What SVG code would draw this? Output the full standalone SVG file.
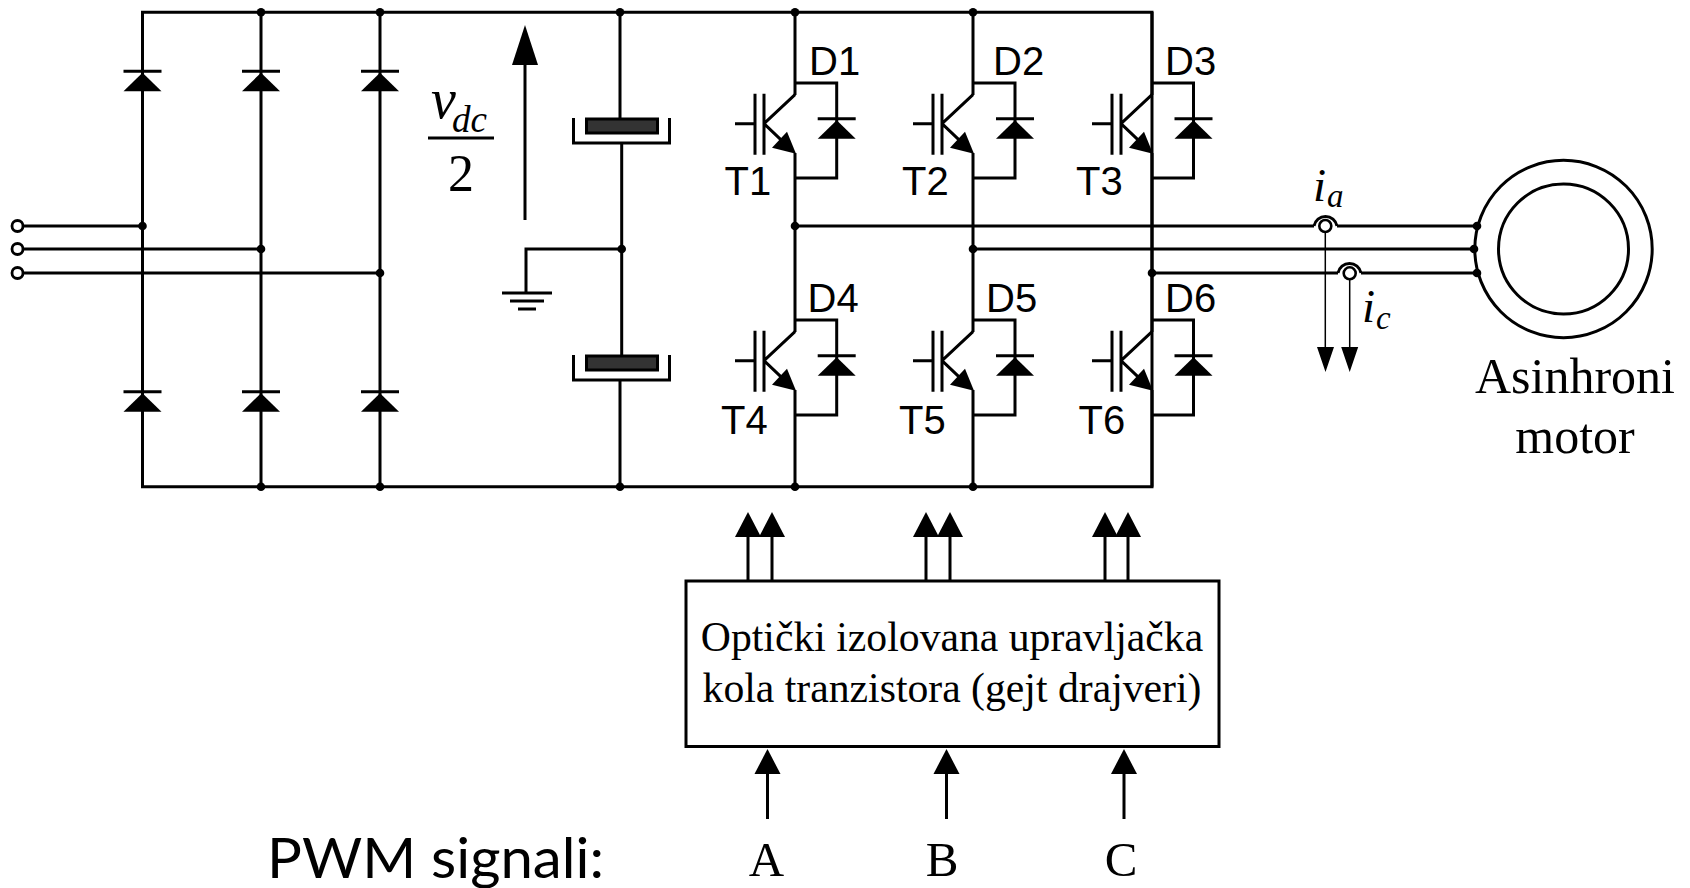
<svg xmlns="http://www.w3.org/2000/svg" width="1690" height="888" viewBox="0 0 1690 888">
<style>
.w{fill:none;stroke:#000;stroke-width:3;stroke-linecap:butt;stroke-linejoin:miter}
.t{fill:none;stroke:#000;stroke-width:1.5}
.f{fill:#000}
.lbl{font-family:"Liberation Sans",Arial,sans-serif;font-size:40px;fill:#000}
.ser{font-family:"Liberation Serif","Times New Roman",serif;fill:#000}
.it{font-style:italic}
</style>
<defs>
<g id="diode"><path class="w" d="M-19 0H19"/><path class="f" d="M0 1.5L19 20H-19Z"/></g>
<circle id="dot" r="4.3" fill="#000"/>
<g id="igbt">
<path class="w" d="M-60 0H-40M-40 -30V31M-31 -30V31M-31 0L0 -29M-31 0L-10 20"/>
<path class="f" d="M1 30L-23 24L-8 8Z"/>
</g>
<circle id="term" r="5.5" fill="#fff" stroke="#000" stroke-width="2.8"/>
<path id="up" class="f" d="M0 0L13 25H-13Z"/>
</defs>
<rect width="1690" height="888" fill="#fff"/>
<g id="connectors">
<path class="w" d="M142.5 12.3H1152V486.7H142.5Z"/>
<path class="w" d="M261 12V486.7M380 12V486.7"/>
<path class="w" d="M23 226H142.5M23 249H261M23 273H380"/>
<path class="w" d="M620 12V118M621.7 143V356M620 380V486.7M526 293V249H621"/>
<path class="w" d="M795 12V95M795 153V332M795 390V486.7M973 12V95M973 153V332M973 390V486.7"/>
<path class="w" d="M1152 12V95M1152 153V332M1152 390V486.7"/>
<path class="w" d="M795 83H836.7V178H795M973 83H1015V178H973M1152 83H1193.5V178H1152"/>
<path class="w" d="M795 320H836.7V415H795M973 320H1015V415H973M1152 320H1193.5V415H1152"/>
<path class="w" d="M795 226H1314M1337 226H1477M973 249H1474M1152 273H1338M1361 273H1477"/>
<path class="t" d="M1325.3 232V350M1349.7 279V350"/>
<path class="w" d="M748 581V535M772 581V535M926 581V535M950 581V535M1105 581V535M1128 581V535M767.5 819V770M946.5 819V770M1124 819V770"/>
<path class="w" d="M525 220V60"/>
</g>
<g id="rectifier">
<use href="#diode" x="142.5" y="71.3"/><use href="#diode" x="261" y="71.3"/><use href="#diode" x="380" y="71.3"/>
<use href="#diode" x="142.5" y="391.7"/><use href="#diode" x="261" y="391.7"/><use href="#diode" x="380" y="391.7"/>
<use href="#term" x="17.5" y="226"/><use href="#term" x="17.5" y="249"/><use href="#term" x="17.5" y="273"/>
<use href="#dot" x="142.5" y="226"/><use href="#dot" x="261" y="249"/><use href="#dot" x="380" y="273"/>
<use href="#dot" x="261" y="12.3"/><use href="#dot" x="380" y="12.3"/><use href="#dot" x="261" y="486.7"/><use href="#dot" x="380" y="486.7"/>
<use href="#dot" x="620" y="12.3"/><use href="#dot" x="795" y="12.3"/><use href="#dot" x="973" y="12.3"/>
<use href="#dot" x="620" y="486.7"/><use href="#dot" x="795" y="486.7"/><use href="#dot" x="973" y="486.7"/>
<use href="#dot" x="621.7" y="249"/><use href="#dot" x="795" y="226"/><use href="#dot" x="973" y="249"/><use href="#dot" x="1152" y="273"/>
</g>
<g id="vdc">
<path class="f" d="M525 25L538 65H512Z"/>
<text class="ser it" x="431" y="118" font-size="56">v</text>
<text class="ser it" x="452" y="132" font-size="37">dc</text>
<path class="w" d="M428 138H494"/>
<text class="ser" x="461" y="191" font-size="52" text-anchor="middle">2</text>
</g>
<g id="ground"><path class="w" d="M502 293H552M510 301H544M518 309H536"/></g>
<g id="capacitors">
<rect x="586.5" y="119" width="71" height="14" fill="#333" stroke="#000" stroke-width="3"/>
<path class="w" d="M573.5 118V143H669.5V118"/>
<rect x="586.5" y="356" width="71" height="14" fill="#333" stroke="#000" stroke-width="3"/>
<path class="w" d="M573.5 355V380H669.5V355"/>
</g>
<g id="T1"><use href="#igbt" x="795" y="123.7"/><use href="#diode" x="836.7" y="118.7"/><text class="lbl" x="724.5" y="195">T1</text><text class="lbl" x="809" y="75">D1</text></g>
<g id="T2"><use href="#igbt" x="973" y="123.7"/><use href="#diode" x="1015" y="118.7"/><text class="lbl" x="902" y="195">T2</text><text class="lbl" x="993" y="75">D2</text></g>
<g id="T3"><use href="#igbt" x="1152" y="123.7"/><use href="#diode" x="1193.5" y="118.7"/><text class="lbl" x="1076" y="195">T3</text><text class="lbl" x="1165" y="75">D3</text></g>
<g id="T4"><use href="#igbt" x="795" y="360.7"/><use href="#diode" x="836.7" y="355.7"/><text class="lbl" x="721" y="434">T4</text><text class="lbl" x="807.5" y="312">D4</text></g>
<g id="T5"><use href="#igbt" x="973" y="360.7"/><use href="#diode" x="1015" y="355.7"/><text class="lbl" x="899" y="434">T5</text><text class="lbl" x="986" y="312">D5</text></g>
<g id="T6"><use href="#igbt" x="1152" y="360.7"/><use href="#diode" x="1193.5" y="355.7"/><text class="lbl" x="1078.5" y="434">T6</text><text class="lbl" x="1165" y="312">D6</text></g>
<g id="sensors">
<path class="w" d="M1314 226A11.7 11.7 0 0 1 1337 226M1338 273A11.7 11.7 0 0 1 1361 273"/>
<circle cx="1325.3" cy="226" r="6" fill="#fff" stroke="#000" stroke-width="2.6"/>
<circle cx="1349.7" cy="273.3" r="6" fill="#fff" stroke="#000" stroke-width="2.6"/>
<path class="f" d="M1317 347H1334L1325.5 372ZM1341.2 347H1358.2L1349.7 372Z"/>
<text class="ser it" x="1313" y="200.5" font-size="47">i</text><text class="ser it" x="1327" y="207" font-size="33">a</text>
<text class="ser it" x="1362" y="321.5" font-size="47">i</text><text class="ser it" x="1376" y="329" font-size="33">c</text>
</g>
<g id="motor">
<circle cx="1563.5" cy="249" r="88.7" fill="none" stroke="#000" stroke-width="3"/>
<circle cx="1563.5" cy="249" r="65" fill="none" stroke="#000" stroke-width="3"/>
<use href="#dot" x="1477" y="226"/><use href="#dot" x="1474" y="249"/><use href="#dot" x="1477" y="273"/>
<text class="ser" x="1575" y="393" font-size="50" text-anchor="middle">Asinhroni</text>
<text class="ser" x="1575" y="453" font-size="50" text-anchor="middle">motor</text>
</g>
<g id="driver">
<rect x="686" y="581" width="533" height="165.5" fill="none" stroke="#000" stroke-width="3"/>
<text class="ser" x="952" y="651" font-size="41.7" text-anchor="middle">Optički izolovana upravljačka</text>
<text class="ser" x="952" y="702" font-size="41.7" text-anchor="middle">kola tranzistora (gejt drajveri)</text>
<use href="#up" x="748" y="512"/><use href="#up" x="772" y="512"/><use href="#up" x="926" y="512"/><use href="#up" x="950" y="512"/><use href="#up" x="1105" y="512"/><use href="#up" x="1128" y="512"/>
<use href="#up" x="767.5" y="749"/><use href="#up" x="946.5" y="749"/><use href="#up" x="1124" y="749"/>
</g>
<g id="pwm">
<text x="267" y="878" font-family="Lato,sans-serif" font-size="57" fill="#000" textLength="337" lengthAdjust="spacingAndGlyphs">PWM signali:</text>
<text class="ser" x="766.5" y="876" font-size="49" text-anchor="middle">A</text>
<text class="ser" x="942" y="876" font-size="49" text-anchor="middle">B</text>
<text class="ser" x="1121" y="876" font-size="49" text-anchor="middle">C</text>
</g>
</svg>
